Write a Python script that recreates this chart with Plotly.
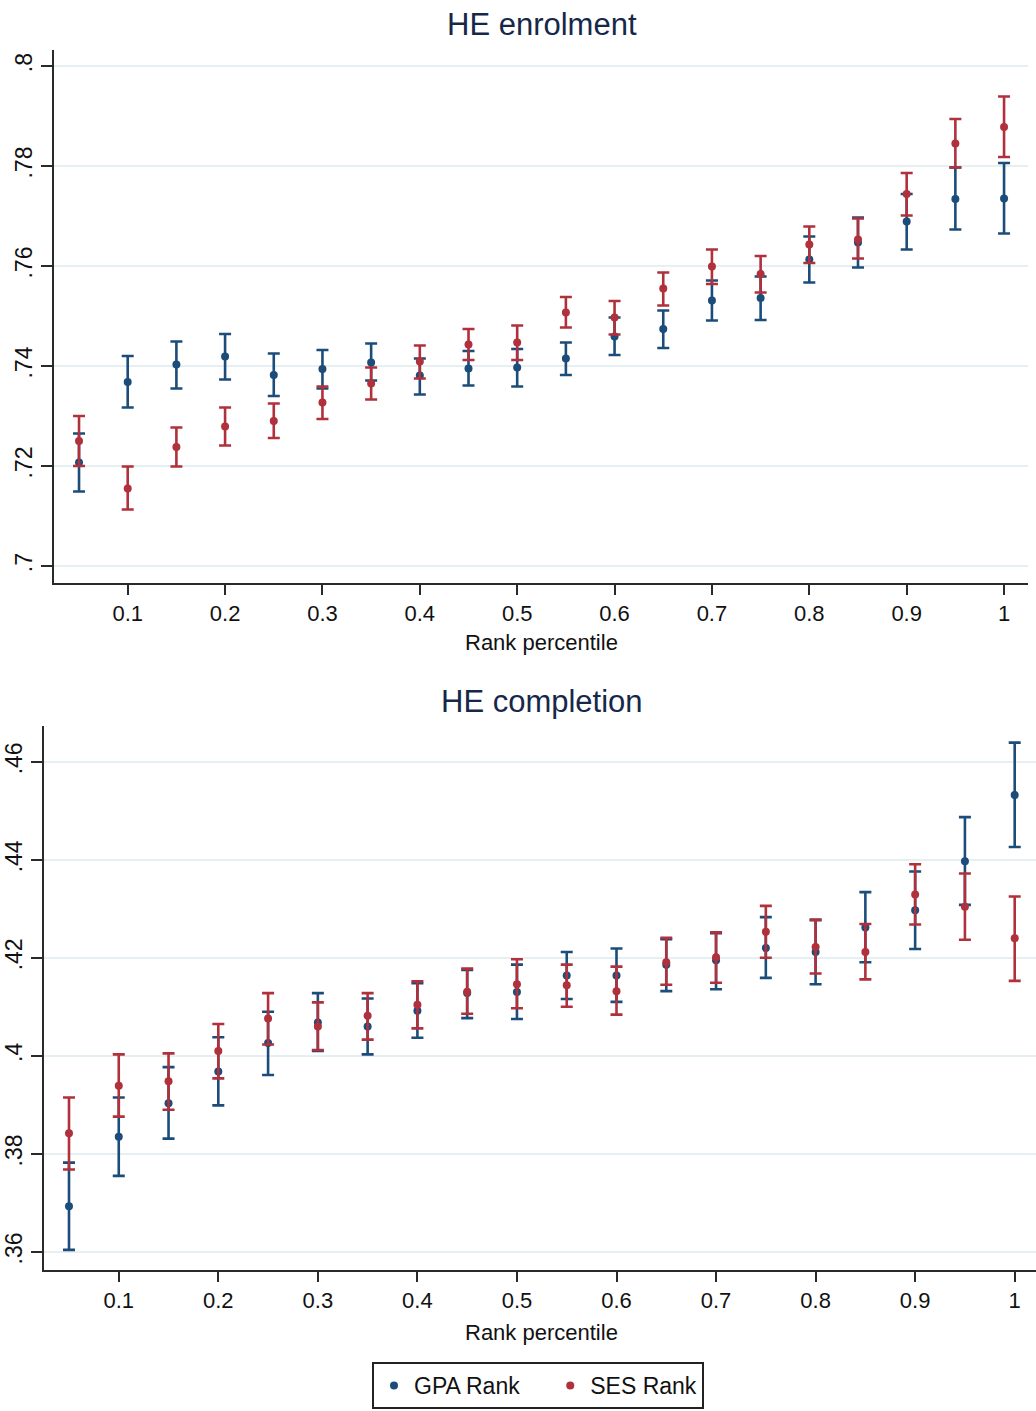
import plotly.graph_objects as go

# ---- data ----
rank_pct = [0.05, 0.10, 0.15, 0.20, 0.25, 0.30, 0.35, 0.40, 0.45, 0.50,
            0.55, 0.60, 0.65, 0.70, 0.75, 0.80, 0.85, 0.90, 0.95, 1.00]

# HE enrolment
enr_gpa = [0.7207, 0.7368, 0.7403, 0.7419, 0.7382, 0.7394, 0.7407, 0.7381, 0.7395, 0.7397,
           0.7415, 0.7459, 0.7474, 0.7531, 0.7536, 0.7613, 0.7647, 0.7689, 0.7734, 0.7735]
enr_gpa_hi = [0.7265, 0.7420, 0.7449, 0.7464, 0.7425, 0.7432, 0.7445, 0.7415, 0.7430, 0.7434,
              0.7447, 0.7497, 0.7511, 0.7571, 0.7579, 0.7659, 0.7697, 0.7744, 0.7797, 0.7806]
enr_gpa_lo = [0.7149, 0.7317, 0.7355, 0.7373, 0.7340, 0.7355, 0.7371, 0.7343, 0.7361, 0.7359,
              0.7382, 0.7422, 0.7436, 0.7491, 0.7492, 0.7567, 0.7597, 0.7633, 0.7673, 0.7665]
enr_ses = [0.7250, 0.7155, 0.7238, 0.7279, 0.7290, 0.7327, 0.7365, 0.7409, 0.7443, 0.7447,
           0.7507, 0.7497, 0.7555, 0.7599, 0.7584, 0.7643, 0.7653, 0.7744, 0.7845, 0.7878]
enr_ses_hi = [0.7300, 0.7199, 0.7277, 0.7317, 0.7325, 0.7359, 0.7397, 0.7441, 0.7474, 0.7481,
              0.7538, 0.7530, 0.7587, 0.7633, 0.7620, 0.7679, 0.7695, 0.7786, 0.7894, 0.7939]
enr_ses_lo = [0.7200, 0.7113, 0.7199, 0.7241, 0.7256, 0.7294, 0.7333, 0.7375, 0.7412, 0.7412,
              0.7477, 0.7463, 0.7521, 0.7564, 0.7547, 0.7606, 0.7615, 0.7701, 0.7797, 0.7818]

# HE completion
com_gpa = [0.3693, 0.3835, 0.3903, 0.3968, 0.4026, 0.4068, 0.4060, 0.4092, 0.4128, 0.4130,
           0.4164, 0.4164, 0.4186, 0.4195, 0.4220, 0.4212, 0.4262, 0.4297, 0.4397, 0.4532]
com_gpa_hi = [0.3782, 0.3915, 0.3977, 0.4038, 0.4090, 0.4128, 0.4117, 0.4148, 0.4175, 0.4186,
              0.4212, 0.4219, 0.4238, 0.4250, 0.4283, 0.4277, 0.4334, 0.4376, 0.4487, 0.4639]
com_gpa_lo = [0.3604, 0.3755, 0.3831, 0.3899, 0.3961, 0.4010, 0.4003, 0.4037, 0.4077, 0.4075,
              0.4116, 0.4110, 0.4132, 0.4136, 0.4159, 0.4146, 0.4191, 0.4218, 0.4308, 0.4426]
com_ses = [0.3842, 0.3939, 0.3948, 0.4010, 0.4076, 0.4060, 0.4082, 0.4104, 0.4131, 0.4146,
           0.4144, 0.4132, 0.4191, 0.4201, 0.4253, 0.4222, 0.4212, 0.4329, 0.4304, 0.4240]
com_ses_hi = [0.3915, 0.4003, 0.4005, 0.4065, 0.4128, 0.4109, 0.4128, 0.4152, 0.4178, 0.4197,
              0.4186, 0.4182, 0.4241, 0.4252, 0.4306, 0.4278, 0.4269, 0.4391, 0.4372, 0.4325]
com_ses_lo = [0.3768, 0.3876, 0.3890, 0.3954, 0.4023, 0.4012, 0.4033, 0.4056, 0.4086, 0.4097,
              0.4100, 0.4084, 0.4145, 0.4149, 0.4200, 0.4168, 0.4156, 0.4268, 0.4237, 0.4153]

x_ticks = [0.1, 0.2, 0.3, 0.4, 0.5, 0.6, 0.7, 0.8, 0.9, 1.0]
x_ticktext = ["0.1", "0.2", "0.3", "0.4", "0.5", "0.6", "0.7", "0.8", "0.9", "1"]
enr_yticks = [0.70, 0.72, 0.74, 0.76, 0.78, 0.80]
enr_yticktext = [".7", ".72", ".74", ".76", ".78", ".8"]
com_yticks = [0.36, 0.38, 0.40, 0.42, 0.44, 0.46]
com_yticktext = [".36", ".38", ".4", ".42", ".44", ".46"]

series_names = ["GPA Rank", "SES Rank"]
titles = ["HE enrolment", "HE completion"]
x_title = "Rank percentile"

# ---- style ----
W, H = 1036, 1411
NAVY = "#1b4c7a"
RED = "#b0303c"
GRID = "#e6eff1"
FONT = "Liberation Sans, Arial, sans-serif"
TITLE_COL = "#16284a"


def err(pt, hi, lo, col):
    return dict(type="data", symmetric=False,
                array=[h - p for h, p in zip(hi, pt)],
                arrayminus=[p - l for p, l in zip(pt, lo)],
                color=col, thickness=2.6, width=6)


fig = go.Figure()

legend_labels = [series_names[0] + "\u00a0" * 4, series_names[1]]
panels = [
    ("x", "y", (enr_gpa, enr_gpa_hi, enr_gpa_lo), (enr_ses, enr_ses_hi, enr_ses_lo), True),
    ("x2", "y2", (com_gpa, com_gpa_hi, com_gpa_lo), (com_ses, com_ses_hi, com_ses_lo), False),
]
for xa, ya, g, s, show in panels:
    for (pt, hi, lo), col, name in ((g, NAVY, legend_labels[0]), (s, RED, legend_labels[1])):
        fig.add_trace(go.Scatter(
            x=rank_pct, y=pt, mode="markers", name=name, showlegend=show,
            marker=dict(color=col, size=8), error_y=err(pt, hi, lo, col),
            xaxis=xa, yaxis=ya))


def py(px):
    return 1 - px / H


def pxx(px):
    return px / W


xcommon = dict(showline=True, linecolor="#2a2a2a", linewidth=2, showgrid=False, zeroline=False,
               ticks="outside", ticklen=10, tickwidth=2, tickcolor="#2a2a2a",
               tickvals=x_ticks, ticktext=x_ticktext,
               tickfont=dict(family=FONT, size=22, color="#111111"))
ycommon = dict(showline=True, linecolor="#2a2a2a", linewidth=2, showgrid=True, gridcolor=GRID,
               gridwidth=2, zeroline=False, ticks="outside", ticklen=11, tickwidth=2,
               tickcolor="#2a2a2a", tickangle=-90,
               tickfont=dict(family=FONT, size=23, color="#111111"))

fig.update_layout(
    width=W, height=H, margin=dict(l=0, r=0, t=0, b=0),
    paper_bgcolor="white", plot_bgcolor="white",
    font=dict(family=FONT, color="#111111"),
    xaxis=dict(xcommon, domain=[pxx(54), pxx(1028)], range=[0.0243, 1.0246], anchor="y"),
    yaxis=dict(ycommon, domain=[py(583), py(50)], range=[0.6966, 0.8032], anchor="x",
               tickvals=enr_yticks, ticktext=enr_yticktext),
    xaxis2=dict(xcommon, domain=[pxx(44), 1.0], range=[0.0249, 1.0214], anchor="y2"),
    yaxis2=dict(ycommon, domain=[py(1270), py(726)], range=[0.3563, 0.4673], anchor="x2",
                tickvals=com_yticks, ticktext=com_yticktext),
    legend=dict(orientation="h", x=pxx(372), xanchor="left", y=py(1362), yanchor="top",
                bordercolor="#222222", borderwidth=2, bgcolor="white",
                font=dict(family=FONT, size=23, color="#111111"),
                itemwidth=30, tracegroupgap=0),
    showlegend=True,
)

fig.add_annotation(text=titles[0], x=pxx(542), y=py(25), xref="paper", yref="paper",
                   yanchor="middle", xanchor="center",
                   showarrow=False, font=dict(family=FONT, size=31, color=TITLE_COL))
fig.add_annotation(text=titles[1], x=pxx(542), y=py(701), xref="paper", yref="paper",
                   yanchor="middle", xanchor="center",
                   showarrow=False, font=dict(family=FONT, size=31, color=TITLE_COL))
fig.add_annotation(text=x_title, x=pxx(541), y=py(642), xref="paper", yref="paper",
                   yanchor="middle", xanchor="center",
                   showarrow=False, font=dict(family=FONT, size=22, color="#111111"))
fig.add_annotation(text=x_title, x=pxx(541), y=py(1332), xref="paper", yref="paper",
                   yanchor="middle", xanchor="center",
                   showarrow=False, font=dict(family=FONT, size=22, color="#111111"))

fig.write_html("out.html")
